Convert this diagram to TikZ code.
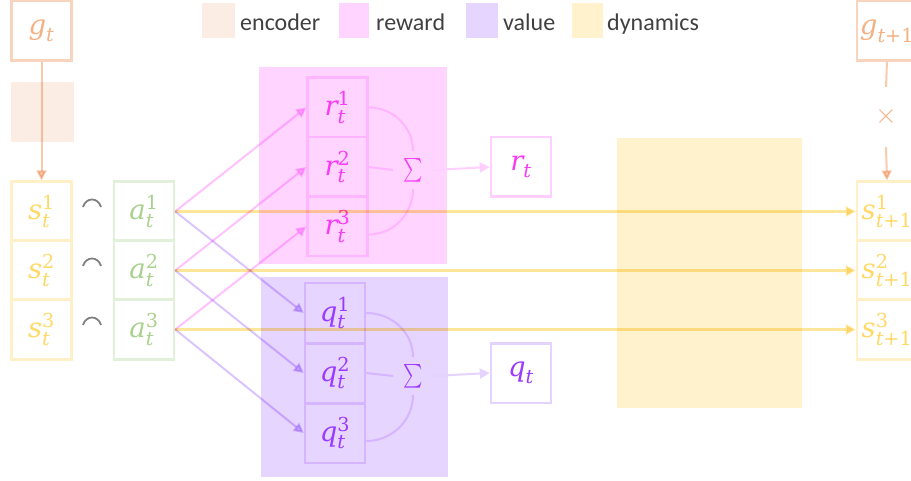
\RequirePackage{fix-cm}
\documentclass[tikz,border=0pt]{standalone}
\usepackage{exscale}
\usepackage{amsmath}
\usepackage[no-math]{fontspec}
\newfontfamily\legendfont{Carlito}
\newfontfamily\symfont{DejaVu Serif}
\usetikzlibrary{arrows.meta}

% symbol with subscript and optional superscript, set in a text face
\newcommand\sym[3]{\ensuremath{\text{\symfont\itshape #1}_{\text{\symfont #2}}^{\text{\symfont #3}}}}
\newcommand\ii[1]{{\itshape #1}}

% palette
\definecolor{encBg}{HTML}{FBEDE3}
\definecolor{gBorder}{HTML}{F8D3BD}
\definecolor{gText}{HTML}{F4B183}
\definecolor{gLine}{HTML}{F8CBAD}
\definecolor{sBorder}{HTML}{FFF0C8}
\definecolor{sText}{HTML}{FFD966}
\definecolor{aBorder}{HTML}{E2EFDA}
\definecolor{aText}{HTML}{A9D18E}
\definecolor{rewardBg}{HTML}{FFD5FF}
\definecolor{rBorder}{HTML}{FFB5FF}
\definecolor{rText}{HTML}{F73BF7}
\definecolor{rOut}{HTML}{FFCFFF}
\definecolor{valueBg}{HTML}{E6D5FF}
\definecolor{qBorder}{HTML}{D5B5FF}
\definecolor{qText}{HTML}{9A3BFF}
\definecolor{qOut}{HTML}{E4D2FF}
\definecolor{dynBg}{HTML}{FFF2CC}
\definecolor{yLine}{HTML}{FFE699}
\definecolor{pLine}{HTML}{FFC2FF}
\definecolor{vLine}{HTML}{DCC4FF}
\definecolor{legendText}{HTML}{404040}
\definecolor{frownCol}{HTML}{808080}

\begin{document}
\begin{tikzpicture}[x=1pt,y=-1pt,
  cell/.style={draw, line width=2.5pt, minimum width=60pt, minimum height=59.5pt,
    inner sep=0pt, font=\fontsize{27.5}{32}\selectfont},
  sumnode/.style={inner xsep=10pt, inner ysep=7pt, font=\fontsize{28}{32}\selectfont},
  legendlabel/.style={anchor=base west, inner sep=0pt, text=legendText,
    font=\legendfont\fontsize{24}{28}\selectfont},
  conn/.style={line width=2pt, -{Triangle[length=10pt,width=10pt]}},
  plain/.style={line width=2pt},
]
\useasboundingbox (0,0) rectangle (911,481);

% coloured regions
\fill[encBg] (11,82) rectangle (74,142);
\fill[rewardBg] (259,67) rectangle (447,264);
\fill[valueBg] (261,277) rectangle (448,477);
\fill[dynBg] (617,138) rectangle (802,408);

% legend
\fill[encBg] (202,3) rectangle (235,38);
\node[legendlabel] (legEnc) at (240,31) {encoder};
\fill[rewardBg] (339,3) rectangle (369,38);
\node[legendlabel] (legRew) at (376,31) {reward};
\fill[valueBg] (466,3) rectangle (498,38);
\node[legendlabel] (legVal) at (503,31) {value};
\fill[dynBg] (572,3) rectangle (603,38);
\node[legendlabel] (legDyn) at (607,31) {dynamics};

% observation and latent states at time t
\node[cell, draw=gBorder, text=gText] (g) at (41.5,31) {\sym{g}{\ii{t}}{}};
\node[cell, draw=sBorder, text=sText] (s1) at (41.5,211.5) {\sym{s}{\ii{t}}{1}};
\node[cell, draw=sBorder, text=sText] (s2) at (41.5,270.5) {\sym{s}{\ii{t}}{2}};
\node[cell, draw=sBorder, text=sText] (s3) at (41.5,329.5) {\sym{s}{\ii{t}}{3}};

% concatenation marks
\foreach \yy in {207,266,325}
  \draw[frownCol, line width=1.8pt] (83,\yy) .. controls (86,\yy-10) and (98,\yy-10) .. (101,\yy);

% actions
\node[cell, draw=aBorder, text=aText] (a1) at (144,211.5) {\sym{a}{\ii{t}}{1}};
\node[cell, draw=aBorder, text=aText] (a2) at (144,270.5) {\sym{a}{\ii{t}}{2}};
\node[cell, draw=aBorder, text=aText] (a3) at (144,329.5) {\sym{a}{\ii{t}}{3}};

% reward heads
\node[cell, draw=rBorder, text=rText] (r1) at (337.5,107.5) {\sym{r}{\ii{t}}{1}};
\node[cell, draw=rBorder, text=rText] (r2) at (337.5,167) {\sym{r}{\ii{t}}{2}};
\node[cell, draw=rBorder, text=rText] (r3) at (337.5,226.5) {\sym{r}{\ii{t}}{3}};
\node[sumnode, text=rText] (sigR) at (413,170) {\scalebox{0.74}[0.95]{$\sum$}};
\node[cell, draw=rOut, text=rText] (rt) at (521,167) {\sym{r}{\ii{t}}{}};

% value heads
\node[cell, draw=qBorder, text=qText] (q1) at (335,313) {\sym{q}{\ii{t}}{1}};
\node[cell, draw=qBorder, text=qText] (q2) at (335,373) {\sym{q}{\ii{t}}{2}};
\node[cell, draw=qBorder, text=qText] (q3) at (335,433) {\sym{q}{\ii{t}}{3}};
\node[sumnode, text=qText] (sigQ) at (413,376) {\scalebox{0.74}[0.95]{$\sum$}};
\node[cell, draw=qOut, text=qText] (qt) at (521,373) {\sym{q}{\ii{t}}{}};

% time t+1
\node[cell, draw=gBorder, text=gText] (g1) at (887,31) {\sym{g}{\ii{t}+1}{}};
\node[minimum height=60pt, inner sep=0pt, text=gText,
  font=\fontsize{28}{32}\selectfont] (times) at (886,117) {$\times$};
\node[cell, draw=sBorder, text=sText] (n1) at (887,211.5) {\sym{s}{\ii{t}+1}{1}};
\node[cell, draw=sBorder, text=sText] (n2) at (887,270.5) {\sym{s}{\ii{t}+1}{2}};
\node[cell, draw=sBorder, text=sText] (n3) at (887,329.5) {\sym{s}{\ii{t}+1}{3}};

% summation arcs
\draw[plain, rBorder] (r1.east) to[out=0,in=90] (sigR.north);
\draw[plain, rBorder] (sigR.south) to[out=-90,in=0] ([yshift=-8pt]r3.east);
\draw[plain, rBorder] (r2.east) -- (sigR.west);
\draw[conn, rOut] (sigR.east) -- (rt.west);
\draw[plain, qBorder] (q1.east) to[out=0,in=90] (sigQ.north);
\draw[plain, qBorder] (sigQ.south) to[out=-90,in=0] ([yshift=-8pt]q3.east);
\draw[plain, qBorder] (q2.east) -- (sigQ.west);
\draw[conn, qOut] (sigQ.east) -- (qt.west);

% connectors
\begin{scope}[blend mode=multiply]
  \draw[conn, gLine] (g.south) -- (s1.north);
  \draw[plain, gLine] (g1.south) -- (times.north);
  \draw[conn, gLine] (times.south) -- (n1.north);
  \draw[conn, pLine] (a1.east) -- (r1.west);
  \draw[conn, pLine] (a2.east) -- (r2.west);
  \draw[conn, pLine] (a3.east) -- (r3.west);
  \draw[conn, vLine] (a1.east) -- (q1.west);
  \draw[conn, vLine] (a2.east) -- (q2.west);
  \draw[conn, vLine] (a3.east) -- (q3.west);
  \draw[conn, yLine, line width=2.5pt] (a1.east) -- (n1.west);
  \draw[conn, yLine, line width=2.5pt] (a2.east) -- (n2.west);
  \draw[conn, yLine, line width=2.5pt] (a3.east) -- (n3.west);
\end{scope}
\end{tikzpicture}
\end{document}
